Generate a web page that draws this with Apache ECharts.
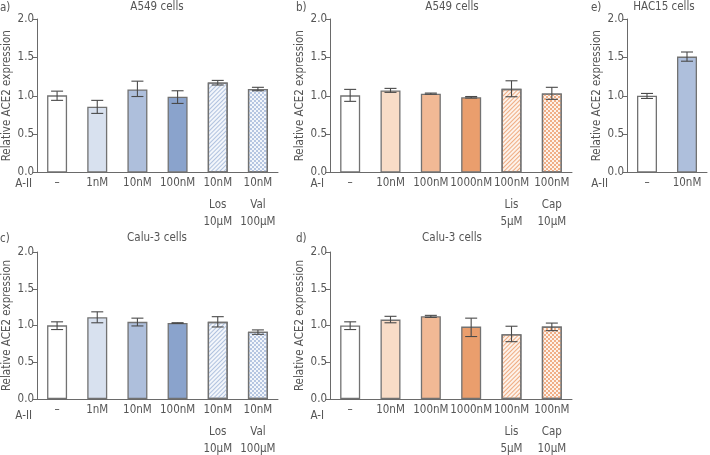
<!DOCTYPE html>
<html>
<head>
<meta charset="utf-8">
<script src="https://cdn.jsdelivr.net/npm/echarts@6/dist/echarts.min.js"></script>
<style>
html,body{margin:0;padding:0;background:#fff;}
#chart{width:710px;height:455px;}
</style>
</head>
<body>
<div id="chart"></div>
<script>
// ---------- DATA ----------
const catsAII = ['–', '1nM', '10nM', '100nM', '10nM\nLos\n10μM', '10nM\nVal\n100μM'];
const catsAI = ['–', '10nM', '100nM', '1000nM', '100nM\nLis\n5μM', '100nM\nCap\n10μM'];
const catsE = ['–', '10nM'];

const valsA = [1.005, 0.857, 1.083, 0.987, 1.172, 1.087];
const loA   = [0.94, 0.77, 0.99, 0.90, 1.14, 1.065];
const hiA   = [1.06, 0.94, 1.19, 1.065, 1.20, 1.11];

const valsB = [1.005, 1.07, 1.026, 0.98, 1.09, 1.03];
const loB   = [0.927, 1.044, 1.02, 0.97, 0.987, 0.953];
const hiB   = [1.083, 1.096, 1.035, 0.99, 1.195, 1.11];

const valsE = [1.0, 1.51];
const loE   = [0.965, 1.45];
const hiE   = [1.03, 1.57];

const valsC = [1.002, 1.112, 1.05, 1.033, 1.05, 0.915];
const loC   = [0.945, 1.037, 0.994, 1.028, 0.98, 0.88];
const hiC   = [1.05, 1.186, 1.10, 1.038, 1.12, 0.94];

const valsD = [1.0, 1.08, 1.125, 0.985, 0.88, 0.985];
const loD   = [0.945, 1.037, 1.11, 0.85, 0.78, 0.93];
const hiD   = [1.05, 1.125, 1.138, 1.10, 0.99, 1.033];

const yTicks = [0, 0.5, 1.0, 1.5, 2.0];

// ---------- STYLES ----------
const FONT = "'DejaVu Sans Condensed', Roboto, sans-serif";
const FS = 11.5;
const TXT = '#555';
const AX = '#6a6a6a';
const BORDER = '#727272';

function plain(c){ return {color: c, borderColor: BORDER, borderWidth: 1.3}; }
function hatch(bg, fg){ return {color: bg, borderColor: BORDER, borderWidth: 1.3,
  decal: {symbol: 'rect', symbolSize: 1, dashArrayX: [1, 0], dashArrayY: [1, 2], rotation: -Math.PI / 4, color: fg}}; }
function check(bg, fg){ return {color: bg, borderColor: BORDER, borderWidth: 1.3,
  decal: {symbol: 'rect', symbolSize: 1, dashArrayX: [[2, 2], [0, 2, 2, 0]], dashArrayY: [2, 0], rotation: 0, color: fg}}; }

const blueStyles = [plain('#ffffff'), plain('#d8e1ef'), plain('#aebfdc'), plain('#8aa3cc'),
  hatch('#f3f6fb', '#b0c2df'), check('#f3f6fb', '#b6c6e1')];
const orangeStyles = [plain('#ffffff'), plain('#f8dcc7'), plain('#f1b995'), plain('#ea9e6d'),
  hatch('#fdf2ea', '#efac82'), check('#fdf2ea', '#f0ae86')];
const eStyles = [plain('#ffffff'), plain('#aebfdc')];

// ---------- PANELS ----------
const panels = [
  {grid: {left: 35, top: 19, width: 243, height: 153.5}, cats: catsAII, vals: valsA, lo: loA, hi: hiA, st: blueStyles},
  {grid: {left: 330, top: 19, width: 242, height: 153.5}, cats: catsAI, vals: valsB, lo: loB, hi: hiB, st: orangeStyles},
  {grid: {left: 627, top: 19, width: 80, height: 153.5}, cats: catsE, vals: valsE, lo: loE, hi: hiE, st: eStyles},
  {grid: {left: 35, top: 252, width: 243, height: 152}, cats: catsAII, vals: valsC, lo: loC, hi: hiC, st: blueStyles},
  {grid: {left: 330, top: 252, width: 242, height: 152}, cats: catsAI, vals: valsD, lo: loD, hi: hiD, st: orangeStyles}
];

const grids = [], xAxes = [], yAxes = [], series = [];
panels.forEach((p, i) => {
  grids.push(Object.assign({containLabel: false}, p.grid));
  xAxes.push({
    type: 'category', gridIndex: i, data: p.cats,
    axisLine: {lineStyle: {color: AX, width: 1}},
    axisTick: {alignWithLabel: true, length: 4, lineStyle: {color: AX}},
    axisLabel: {
      interval: 0, margin: 4, color: TXT, fontFamily: FONT, fontSize: FS,
      formatter: function (v) {
        const parts = v.split('\n');
        let s = '{a|' + parts[0] + '}';
        if (parts.length > 1) s += '\n{b|' + parts[1] + '}\n{c|' + parts[2] + '}';
        return s;
      },
      rich: {
        a: {lineHeight: 14, fontFamily: FONT, fontSize: FS, color: TXT},
        b: {lineHeight: 30, fontFamily: FONT, fontSize: FS, color: TXT},
        c: {lineHeight: 4, fontFamily: FONT, fontSize: FS, color: TXT}
      }
    }
  });
  yAxes.push({
    type: 'value', gridIndex: i, min: 0, max: 2, interval: 0.5,
    name: 'Relative ACE2 expression', nameLocation: 'middle', nameGap: 24,
    nameTextStyle: {color: TXT, fontFamily: FONT, fontSize: FS},
    axisLine: {show: true, lineStyle: {color: AX, width: 1}},
    axisTick: {show: true, length: 4, lineStyle: {color: AX}},
    splitLine: {show: false},
    axisLabel: {color: TXT, fontFamily: FONT, fontSize: FS, margin: 3,
      formatter: v => yTicks.indexOf(v) >= 0 ? v.toFixed(1) : ''}
  });
  series.push({
    type: 'bar', xAxisIndex: i, yAxisIndex: i, barWidth: 20,
    data: p.vals.map((v, k) => ({value: v, itemStyle: p.st[k]})),
    emphasis: {disabled: true}, silent: true
  });
  series.push({
    type: 'custom', xAxisIndex: i, yAxisIndex: i, silent: true, z: 5,
    data: p.vals.map((v, k) => [k, p.lo[k], p.hi[k]]),
    encode: {x: 0, y: [1, 2]},
    renderItem: function (params, api) {
      const x = api.value(0);
      const top = api.coord([x, api.value(2)]);
      const bot = api.coord([x, api.value(1)]);
      const h = 6;
      const ls = {stroke: '#4a4a4a', lineWidth: 1.1};
      return {type: 'group', children: [
        {type: 'line', shape: {x1: top[0], y1: top[1], x2: bot[0], y2: bot[1]}, style: ls},
        {type: 'line', shape: {x1: top[0] - h, y1: top[1], x2: top[0] + h, y2: top[1]}, style: ls},
        {type: 'line', shape: {x1: bot[0] - h, y1: bot[1], x2: bot[0] + h, y2: bot[1]}, style: ls}
      ]};
    }
  });
});

function txt(x, y, s, align) {
  return {type: 'text', x: x, y: y, style: {text: s, fill: TXT, font: FS + 'px ' + FONT, textAlign: align || 'center', textVerticalAlign: 'middle'}};
}

const graphics = [
  txt(0, 8, 'a)', 'left'), txt(157, 7, 'A549 cells'),
  txt(296, 8, 'b)', 'left'), txt(452, 7, 'A549 cells'),
  txt(591, 8, 'e)', 'left'), txt(664, 7, 'HAC15 cells'),
  txt(0, 239, 'c)', 'left'), txt(157, 238, 'Calu-3 cells'),
  txt(296, 239, 'd)', 'left'), txt(452, 238, 'Calu-3 cells'),
  txt(32, 184, 'A-II', 'right'), txt(324, 184, 'A-I', 'right'), txt(608, 184, 'A-II', 'right'),
  txt(32, 416, 'A-II', 'right'), txt(324, 416, 'A-I', 'right')
];

const chart = echarts.init(document.getElementById('chart'), null, {renderer: 'canvas'});
chart.setOption({
  animation: false,
  backgroundColor: '#ffffff',
  grid: grids, xAxis: xAxes, yAxis: yAxes, series: series,
  graphic: graphics
});
</script>
</body>
</html>
